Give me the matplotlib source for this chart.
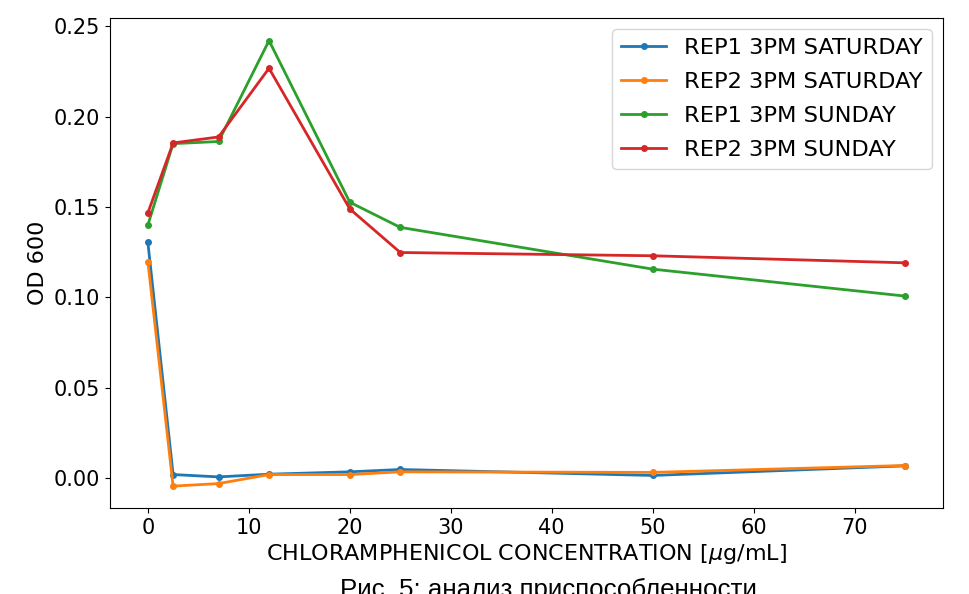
import numpy as np
import matplotlib.pyplot as plt

plt.rcParams.update({
    "font.family": ["DejaVu Sans"],
    "font.size": 15,
})

# Концентрации хлорамфеникола, мкг/мл
conc = [0, 2.5, 7, 12, 20, 25, 50, 75]

rep1_sat = [0.1304, 0.0020, 0.0007, 0.0022, 0.0035, 0.0048, 0.0015, 0.0068]
rep2_sat = [0.1198, -0.0044, -0.0030, 0.0020, 0.0020, 0.0035, 0.0032, 0.0070]
rep1_sun = [0.1400, 0.1850, 0.1862, 0.2420, 0.1526, 0.1387, 0.1156, 0.1007]
rep2_sun = [0.1467, 0.1854, 0.1887, 0.2267, 0.1489, 0.1248, 0.1230, 0.1191]

labels = ["REP1 3PM SATURDAY", "REP2 3PM SATURDAY",
          "REP1 3PM SUNDAY", "REP2 3PM SUNDAY"]
series = [rep1_sat, rep2_sat, rep1_sun, rep2_sun]

fig = plt.figure(figsize=(9.69, 5.94), dpi=100)
ax = fig.add_axes([110 / 969, 1 - 508 / 594, 833 / 969, 490 / 594])

for vals, lab in zip(series, labels):
    ax.plot(conc, vals, marker="o", markersize=4, linewidth=2, label=lab)

ax.set_xlabel(r"CHLORAMPHENICOL CONCENTRATION [$\mu$g/mL]",
              fontsize=16, labelpad=3)
ax.set_ylabel("OD 600", fontsize=16)
ax.set_yticks([0.0, 0.05, 0.10, 0.15, 0.20, 0.25])
ax.set_ylim(-0.0165, 0.2545)
ax.set_xlim(-3.75, 78.75)
ax.legend(loc="upper right", fontsize=16.2, labelspacing=0.62)

# подпись к рисунку (внизу, частично обрезана как в оригинале)
fig.text(548 / 969, 1 - 597 / 594, "Рис. 5: анализ приспособленности",
         ha="center", va="baseline", fontsize=18.6,
         family=["Liberation Sans", "DejaVu Sans"])

fig.savefig("out.png", dpi=100)
